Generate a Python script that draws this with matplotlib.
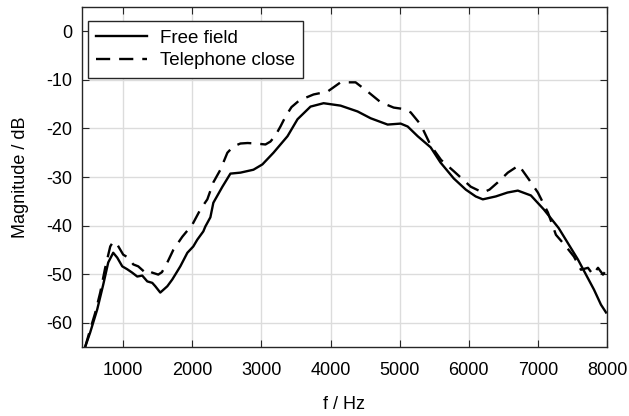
import matplotlib
matplotlib.use('Agg')
import matplotlib.pyplot as plt

# Free field (solid)
f_free = [449, 522, 623, 710, 783, 855, 913, 986, 1058, 1130, 1203, 1275, 1348, 1420,
          1464, 1536, 1638, 1710, 1826, 1928, 2014, 2072, 2159, 2188, 2261, 2304, 2435,
          2551, 2696, 2884, 3014, 3174, 3377, 3522, 3710, 3899, 4145, 4391, 4580, 4826,
          5014, 5116, 5261, 5449, 5590, 5783, 5957, 6100, 6203, 6391, 6560, 6710, 6899,
          7087, 7300, 7580, 7812, 7913, 7986]
db_free = [-65, -62, -57.3, -52.2, -47.6, -45.6, -46.6, -48.4, -49, -49.7, -50.5, -50.3,
           -51.5, -51.8, -52.5, -53.8, -52.5, -51.1, -48.4, -45.6, -44.3, -42.9, -41.2,
           -40.2, -38.3, -35.3, -32, -29.3, -29.1, -28.5, -27.4, -25, -21.6, -18.1, -15.5,
           -14.8, -15.3, -16.5, -17.9, -19.2, -19, -19.6, -21.6, -23.9, -27.0, -30.3,
           -32.6, -34.0, -34.6, -34.0, -33.2, -32.8, -33.8, -36.7, -40.5, -47, -53.2,
           -56.3, -57.9]

# Telephone close (dashed)
f_tel = [449, 522, 594, 667, 739, 812, 855, 913, 1000, 1072, 1145, 1217, 1280, 1319,
         1362, 1420, 1507, 1560, 1638, 1725, 1855, 2000, 2116, 2217, 2304, 2406, 2507,
         2594, 2696, 2800, 2913, 3058, 3130, 3200, 3275, 3350, 3435, 3550, 3754, 3957,
         4145, 4362, 4536, 4725, 4913, 5060, 5160, 5304, 5449, 5600, 5783, 6029, 6203,
         6300, 6420, 6565, 6725, 6870, 7000, 7145, 7261, 7406, 7522, 7623, 7725, 7797,
         7870, 7942, 8000]
db_tel = [-65, -61.4, -58, -53.8, -48.7, -44.3, -43.3, -43.9, -46, -46.6, -48, -48.4,
          -49.2, -49.7, -49.3, -49.7, -50.1, -49.6, -47.6, -45, -42.3, -39.8, -36.7, -34.6,
          -31.1, -28.5, -25, -23.7, -23.1, -23.0, -23.1, -23.3, -22.7, -21.5, -19.6, -17.5,
          -15.6, -14.2, -13, -12.4, -10.5, -10.5, -12.4, -14.6, -15.7, -16.0, -16.7, -19.2,
          -23.5, -26.5, -28.8, -32, -33.2, -32.6, -31.1, -29.1, -27.6, -30.5, -33.2, -37.3,
          -41.9, -44.3, -46.4, -49.1, -48.7, -50.1, -48.7, -50.1, -49]

plt.rcParams['font.family'] = ['Liberation Sans', 'DejaVu Sans']
plt.rcParams['font.size'] = 13
plt.rcParams['axes.unicode_minus'] = False

fig = plt.figure(figsize=(6.29, 4.16), dpi=100)
ax = fig.add_axes([0.130, 0.166, 0.835, 0.817])

ax.plot(f_free, db_free, color='black', lw=1.7, label='Free field')
ax.plot(f_tel, db_tel, color='black', lw=1.7, dashes=[6, 3.8], label='Telephone close')

ax.set_xlim(400, 8000)
ax.set_ylim(-65, 5)
ax.set_xticks(range(1000, 8001, 1000))
ax.set_yticks(range(-60, 1, 10))
ax.grid(True, color='#dcdcdc', lw=1)
ax.set_axisbelow(True)
ax.tick_params(direction='in', top=True, right=True, length=5, color='#262626')
ax.tick_params(axis='x', pad=11)
ax.tick_params(axis='y', pad=7)
for s in ax.spines.values():
    s.set_color('#262626')
    s.set_linewidth(1)

ax.set_xlabel('f / Hz', labelpad=12)
ax.set_ylabel('Magnitude / dB', labelpad=12)

leg = ax.legend(loc='upper left', bbox_to_anchor=(0.011, 0.959), borderaxespad=0,
                fontsize=13.5, fancybox=False, framealpha=1, edgecolor='#262626',
                handlelength=2.7, handletextpad=0.7, borderpad=0.45, labelspacing=0.3)
leg.get_frame().set_linewidth(1)

fig.savefig('out.png', dpi=100)
